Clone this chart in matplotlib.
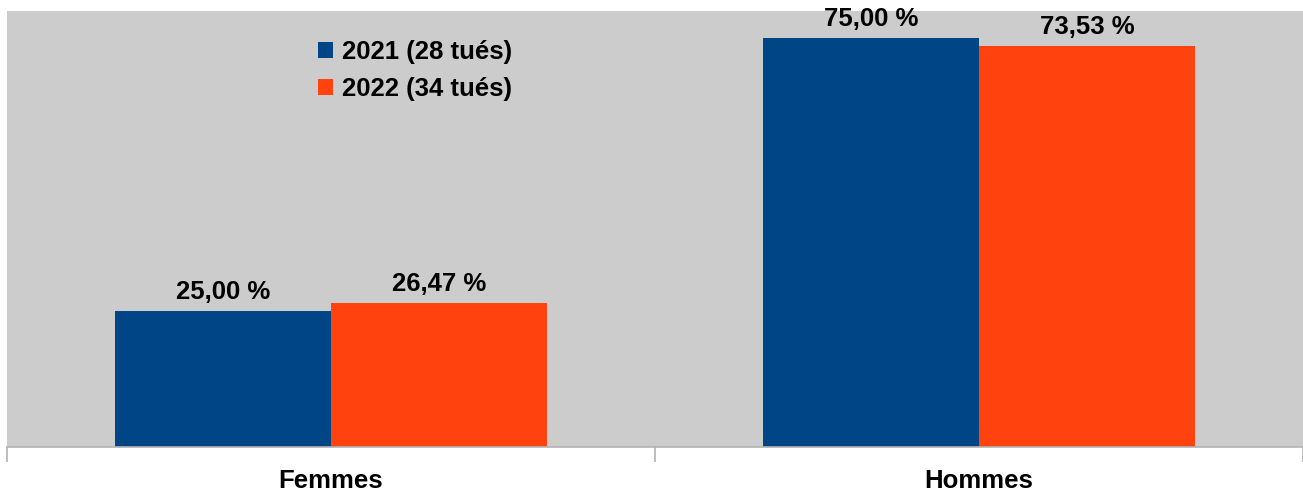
import matplotlib
matplotlib.use("Agg")
import matplotlib.pyplot as plt
import numpy as np

categories = ["Femmes", "Hommes"]
series_names = ["2021 (28 tués)", "2022 (34 tués)"]
values_2021 = [25.00, 75.00]
values_2022 = [26.47, 73.53]
colors = ["#004586", "#ff420e"]

plt.rcParams['font.family'] = ['Liberation Sans', 'DejaVu Sans']

W, H = 1303, 492
FS = 18.5
fig = plt.figure(figsize=(W / 100, H / 100), dpi=100)
ax = fig.add_axes([7 / W, (H - 447) / H, (1303 - 7) / W, (447 - 11) / H])
ax.set_facecolor("#cccccc")

x = np.arange(len(categories))
bw = 1 / 3
series = [values_2021, values_2022]
for i, (vals, name, c) in enumerate(zip(series, series_names, colors)):
    pos = x + (i - 0.5) * bw
    bars = ax.bar(pos, vals, width=bw, color=c, label=name, zorder=2)
    for b, v in zip(bars, vals):
        ax.annotate(f"{v:.2f} %".replace(".", ","), (b.get_x() + b.get_width() / 2, v),
                    xytext=(0, 5), textcoords="offset points", ha="center", va="bottom",
                    fontsize=FS, fontweight="bold", color="black")

ax.set_xlim(-0.5, 1.5)
ax.set_ylim(0, 80)
ax.set_yticks([])
ax.set_xticks([-0.5, 0.5, 1.5], minor=False)
ax.set_xticklabels([])
ax.tick_params(axis='x', which='major', length=11, width=1.2, color="#b3b3b3")
ax.set_xticks(x, minor=True)
ax.set_xticklabels(categories, minor=True, fontsize=FS, fontweight="bold")
ax.tick_params(axis='x', which='minor', length=0, pad=16)
for s in ["top", "right", "left"]:
    ax.spines[s].set_visible(False)
ax.spines["bottom"].set_color("#b3b3b3")
ax.spines["bottom"].set_linewidth(1.2)

leg = ax.legend(loc="upper left", bbox_to_anchor=(311 / 1296, 1 - 29 / 436), frameon=False,
                prop={"size": FS, "weight": "bold"}, handlelength=0.6, handleheight=0.6,
                handletextpad=0.35, labelspacing=0.5, borderpad=0.0, borderaxespad=0.0)

fig.savefig("out.png", dpi=100)
